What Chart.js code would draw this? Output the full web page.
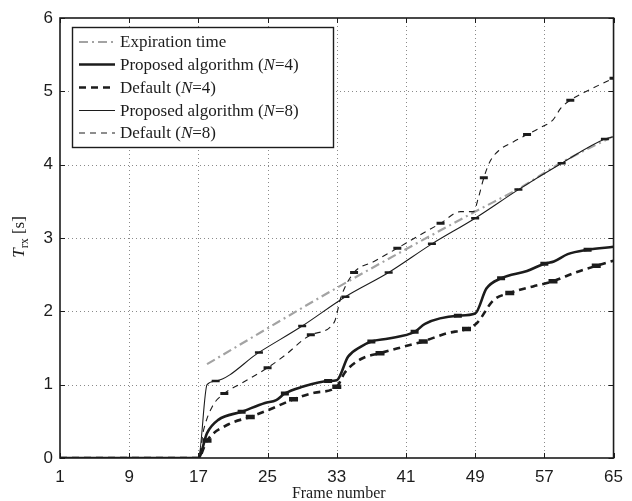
<!DOCTYPE html>
<html><head><meta charset="utf-8">
<script src="https://cdn.jsdelivr.net/npm/chart.js@4"></script>
<style>html,body{margin:0;padding:0;background:#fff}canvas{display:block}</style>
</head><body>
<canvas id="c" width="632" height="501"></canvas>
<script>
const xTicks = [1, 9, 17, 25, 33, 41, 49, 57, 65];
const yTicks = [0, 1, 2, 3, 4, 5, 6];
const seriesNames = ['Expiration time', 'Proposed algorithm (N=4)', 'Default (N=4)', 'Proposed algorithm (N=8)', 'Default (N=8)'];

const expFrames = [18, 33, 49, 54, 59, 65];
const expValues = [1.28, 2.32, 3.36, 3.67, 4.03, 4.39];

const propN4Frames = [1, 17, 18, 19.3, 22, 24.7, 26, 27, 29, 32, 33, 34.3, 35.8, 37, 39, 42, 43.2, 47, 49, 50.3, 52, 55, 57, 58.1, 59.7, 62, 65];
const propN4Values = [0, 0, 0.34, 0.52, 0.63, 0.75, 0.79, 0.88, 0.97, 1.05, 1.06, 1.38, 1.52, 1.59, 1.63, 1.72, 1.83, 1.94, 1.97, 2.31, 2.45, 2.55, 2.65, 2.68, 2.78, 2.84, 2.88];
const propN4Markers = [22, 27, 32, 37, 42, 47, 52, 57, 62];

const defN4Frames = [1, 17, 18, 20.5, 23, 25, 28, 30.4, 33, 33.9, 35.8, 38, 40.8, 43, 45.7, 48, 49.2, 51.1, 53, 55.7, 58, 60.6, 63, 65];
const defN4Values = [0, 0, 0.24, 0.46, 0.56, 0.65, 0.8, 0.89, 0.97, 1.16, 1.35, 1.43, 1.52, 1.59, 1.70, 1.76, 1.84, 2.15, 2.25, 2.34, 2.41, 2.53, 2.62, 2.69];
const defN4Markers = [18, 23, 28, 33, 38, 43, 48, 53, 58, 63];

const propN8Frames = [1, 17, 18, 19, 24, 29, 34, 39, 44, 49, 54, 59, 64, 65];
const propN8Values = [0, 0, 1.0, 1.05, 1.44, 1.80, 2.2, 2.53, 2.92, 3.27, 3.66, 4.02, 4.35, 4.38];
const propN8Markers = [19, 24, 29, 34, 39, 44, 49, 54, 59, 64];

const defN8Frames = [1, 17, 17.6, 18.6, 20, 22, 25, 27, 30, 32.7, 33.5, 35, 37.3, 40, 42.3, 45, 47.3, 48.8, 49.4, 50, 50.7, 51.8, 53.4, 55, 56.6, 58, 58.9, 60, 62.2, 65];
const defN8Values = [0, 0, 0.38, 0.7, 0.88, 1.02, 1.23, 1.40, 1.68, 1.85, 2.2, 2.53, 2.68, 2.86, 3.02, 3.2, 3.36, 3.36, 3.56, 3.82, 4.04, 4.2, 4.31, 4.41, 4.51, 4.61, 4.77, 4.88, 5.02, 5.18];
const defN8Markers = [20, 25, 30, 35, 40, 45, 50, 55, 60, 65];

const pts = (f, v) => f.map((x, i) => ({ x: x, y: v[i] }));
const markerRadius = (list, r) => (ctx) => (ctx.raw && list.includes(ctx.raw.x)) ? r : 0;

const INK = '#1c1c1c';
const GRAY = '#a3a3a3';

const styles = [
  { color: GRAY, width: 2.2, dash: [9, 4, 2, 4] },
  { color: INK, width: 2.6, dash: [] },
  { color: INK, width: 2.6, dash: [7, 5] },
  { color: INK, width: 1.1, dash: [] },
  { color: INK, width: 1.1, dash: [6, 5] }
];

const datasets = [
  { label: seriesNames[0], data: pts(expFrames, expValues), order: 10, pointRadius: 0 },
  { label: seriesNames[1], data: pts(propN4Frames, propN4Values), order: 2, pointRadius: markerRadius(propN4Markers, 4), pointBorderWidth: 4 },
  { label: seriesNames[2], data: pts(defN4Frames, defN4Values), order: 3, pointRadius: markerRadius(defN4Markers, 4.5), pointBorderWidth: 4.5 },
  { label: seriesNames[3], data: pts(propN8Frames, propN8Values), order: 1, pointRadius: markerRadius(propN8Markers, 4), pointBorderWidth: 2.5 },
  { label: seriesNames[4], data: pts(defN8Frames, defN8Values), order: 4, pointRadius: markerRadius(defN8Markers, 4), pointBorderWidth: 3 }
].map((d, i) => Object.assign({
  borderColor: styles[i].color,
  backgroundColor: styles[i].color,
  borderWidth: styles[i].width,
  borderDash: styles[i].dash,
  pointStyle: 'line',
  pointBorderColor: styles[i].color,
  cubicInterpolationMode: 'monotone',
  fill: false
}, d));

const framePlugin = {
  id: 'frame',
  beforeDatasetsDraw(chart) {
    const { ctx, chartArea: a, scales: { x, y } } = chart;
    ctx.save();
    ctx.strokeStyle = '#8a8a8a';
    ctx.lineWidth = 1;
    ctx.setLineDash([1, 3]);
    xTicks.slice(1, -1).forEach(t => {
      const px = Math.round(x.getPixelForValue(t)) + 0.5;
      ctx.beginPath(); ctx.moveTo(px, a.top); ctx.lineTo(px, a.bottom); ctx.stroke();
    });
    yTicks.slice(1, -1).forEach(t => {
      const py = Math.round(y.getPixelForValue(t)) + 0.5;
      ctx.beginPath(); ctx.moveTo(a.left, py); ctx.lineTo(a.right, py); ctx.stroke();
    });
    ctx.restore();
  },
  afterDatasetsDraw(chart) {
    const { ctx, chartArea: a, scales: { x, y } } = chart;
    ctx.save();
    ctx.strokeStyle = INK;
    ctx.lineWidth = 1;
    ctx.setLineDash([]);
    const tl = 5;
    xTicks.forEach(t => {
      const px = Math.round(x.getPixelForValue(t)) + 0.5;
      ctx.beginPath();
      ctx.moveTo(px, a.bottom); ctx.lineTo(px, a.bottom - tl);
      ctx.moveTo(px, a.top); ctx.lineTo(px, a.top + tl);
      ctx.stroke();
    });
    yTicks.forEach(t => {
      const py = Math.round(y.getPixelForValue(t)) + 0.5;
      ctx.beginPath();
      ctx.moveTo(a.left, py); ctx.lineTo(a.left + tl, py);
      ctx.moveTo(a.right, py); ctx.lineTo(a.right - tl, py);
      ctx.stroke();
    });
    ctx.lineWidth = 1.6;
    ctx.strokeRect(a.left, a.top, a.right - a.left, a.bottom - a.top);

    // legend
    const lx = 72, ly = 27, lw = 261, lh = 120;
    ctx.fillStyle = '#fff';
    ctx.fillRect(lx, ly, lw, lh);
    ctx.lineWidth = 1.4;
    ctx.strokeStyle = INK;
    ctx.strokeRect(lx + 0.5, ly + 0.5, lw, lh);
    const rowY = [42, 64.5, 87.5, 110.5, 133];
    seriesNames.forEach((name, i) => {
      const s = styles[i];
      const yy = rowY[i];
      ctx.save();
      ctx.strokeStyle = s.color;
      ctx.lineWidth = s.width;
      ctx.setLineDash(s.dash);
      ctx.beginPath(); ctx.moveTo(79, yy); ctx.lineTo(115, yy); ctx.stroke();
      ctx.restore();
      ctx.fillStyle = INK;
      ctx.textBaseline = 'middle';
      let tx = 120;
      const parts = name.split('N=');
      const normal = '17px "Liberation Serif", serif';
      const ital = 'italic 17px "Liberation Serif", serif';
      ctx.font = normal;
      ctx.fillText(parts[0], tx, yy + 1);
      tx += ctx.measureText(parts[0]).width;
      if (parts.length > 1) {
        ctx.font = ital;
        ctx.fillText('N', tx, yy + 1);
        tx += ctx.measureText('N').width;
        ctx.font = normal;
        ctx.fillText('=' + parts[1], tx, yy + 1);
      }
    });

    // axis titles
    ctx.fillStyle = INK;
    ctx.font = '16px "Liberation Serif", serif';
    ctx.textAlign = 'center';
    ctx.textBaseline = 'alphabetic';
    ctx.fillText('Frame number', (a.left + a.right) / 2 + 2, 498);

    ctx.save();
    ctx.translate(24, 237);
    ctx.rotate(-Math.PI / 2);
    ctx.textAlign = 'left';
    const fT = 'italic 17px "Liberation Serif", serif';
    const fSub = '12px "Liberation Serif", serif';
    const fN = '17px "Liberation Serif", serif';
    ctx.font = fT; const wT = ctx.measureText('T').width;
    ctx.font = fSub; const wS = ctx.measureText('rx').width;
    ctx.font = fN; const wR = ctx.measureText(' [s]').width;
    let sx = -(wT + wS + wR) / 2;
    ctx.font = fT; ctx.fillText('T', sx, 0); sx += wT;
    ctx.font = fSub; ctx.fillText('rx', sx, 4); sx += wS;
    ctx.font = fN; ctx.fillText(' [s]', sx, 0);
    ctx.restore();
    ctx.restore();
  }
};

new Chart(document.getElementById('c'), {
  type: 'line',
  data: { datasets },
  options: {
    responsive: false,
    animation: false,
    devicePixelRatio: 1,
    layout: { padding: { top: 18, right: 14, left: 0, bottom: 0 } },
    plugins: { legend: { display: false }, tooltip: { enabled: false } },
    elements: { line: { tension: 0 } },
    scales: {
      x: {
        type: 'linear', min: 1, max: 65,
        afterBuildTicks: (s) => { s.ticks = xTicks.map(v => ({ value: v })); },
        afterFit: (s) => { s.height = 43; },
        grid: { display: false, drawTicks: false },
        border: { display: false },
        ticks: { color: INK, padding: 9, maxRotation: 0, autoSkip: false, font: { family: '"Liberation Sans", Arial, sans-serif', size: 17 } }
      },
      y: {
        type: 'linear', min: 0, max: 6,
        afterBuildTicks: (s) => { s.ticks = yTicks.map(v => ({ value: v })); },
        afterFit: (s) => { s.width = 60; },
        grid: { display: false, drawTicks: false },
        border: { display: false },
        ticks: { color: INK, padding: 7, font: { family: '"Liberation Sans", Arial, sans-serif', size: 17 } }
      }
    }
  },
  plugins: [framePlugin]
});
</script>
</body></html>
